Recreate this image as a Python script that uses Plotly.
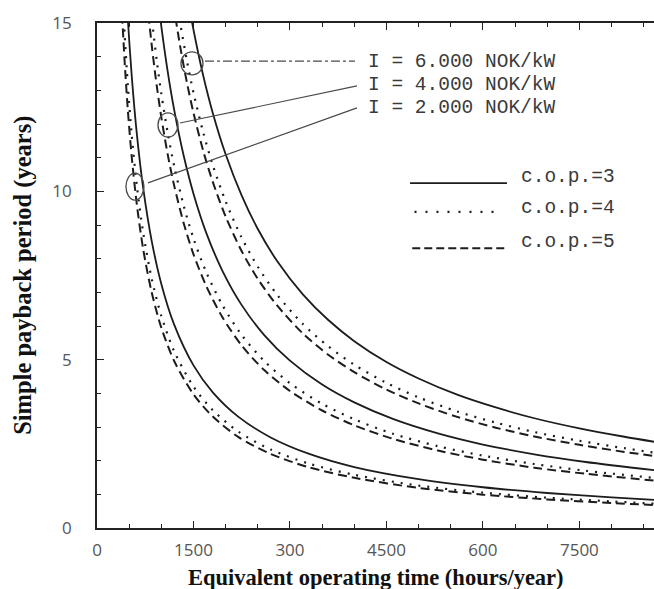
import plotly.graph_objects as go

# ---- data (hours/year -> simple payback years) ----
hours_I6000 = [1220, 1300, 1400, 1500, 1650, 1800, 2000, 2250, 2500, 2800, 3200,
               3600, 4000, 4500, 5000, 5600, 6200, 6800, 7500, 8200, 8700]
I6000_cop3 = [18.20, 17.08, 15.86, 14.80, 13.45, 12.33, 11.10, 9.87, 8.88, 7.93, 6.94,
              6.17, 5.55, 4.93, 4.44, 3.96, 3.58, 3.26, 2.96, 2.71, 2.55]
I6000_cop4 = [15.90, 14.92, 13.86, 12.93, 11.76, 10.78, 9.70, 8.62, 7.76, 6.93, 6.06,
              5.39, 4.85, 4.31, 3.88, 3.46, 3.13, 2.85, 2.59, 2.37, 2.23]
I6000_cop5 = [15.16, 14.23, 13.21, 12.33, 11.21, 10.28, 9.25, 8.22, 7.40, 6.61, 5.78,
              5.14, 4.63, 4.11, 3.70, 3.30, 2.98, 2.72, 2.47, 2.26, 2.13]

hours_I4000 = [800, 860, 930, 1000, 1100, 1200, 1350, 1500, 1700, 1950, 2250,
               2600, 3000, 3500, 4000, 4600, 5300, 6000, 6800, 7600, 8700]
I4000_cop3 = [18.63, 17.33, 16.02, 14.90, 13.55, 12.42, 11.04, 9.93, 8.76, 7.64, 6.62,
              5.73, 4.97, 4.26, 3.73, 3.24, 2.81, 2.48, 2.19, 1.96, 1.71]
I4000_cop4 = [16.13, 15.00, 13.87, 12.90, 11.73, 10.75, 9.56, 8.60, 7.59, 6.62, 5.73,
              4.96, 4.30, 3.69, 3.23, 2.80, 2.43, 2.15, 1.90, 1.70, 1.48]
I4000_cop5 = [15.25, 14.19, 13.12, 12.20, 11.09, 10.17, 9.04, 8.13, 7.18, 6.26, 5.42,
              4.69, 4.07, 3.49, 3.05, 2.65, 2.30, 2.03, 1.79, 1.61, 1.40]

hours_I2000 = [390, 430, 480, 540, 620, 720, 850, 1000, 1200, 1500, 1800,
               2200, 2700, 3300, 4000, 5000, 6000, 7000, 8000, 8700]
I2000_cop3 = [18.59, 16.86, 15.10, 13.43, 11.69, 10.07, 8.53, 7.25, 6.04, 4.83, 4.03,
              3.30, 2.69, 2.20, 1.81, 1.45, 1.21, 1.04, 0.91, 0.83]
I2000_cop4 = [16.15, 14.65, 13.13, 11.67, 10.16, 8.75, 7.41, 6.30, 5.25, 4.20, 3.50,
              2.86, 2.33, 1.91, 1.58, 1.26, 1.05, 0.90, 0.79, 0.72]
I2000_cop5 = [15.26, 13.84, 12.40, 11.02, 9.60, 8.26, 7.00, 5.95, 4.96, 3.97, 3.31,
              2.70, 2.20, 1.80, 1.49, 1.19, 0.99, 0.85, 0.74, 0.68]

x_tickvals = [0, 1500, 3000, 4500, 6000, 7500]
x_ticktext = ["0", "1500", "300", "4500", "600", "7500"]
y_tickvals = [0, 5, 10, 15]
investment_labels = ["I = 6.000 NOK/kW", "I = 4.000 NOK/kW", "I = 2.000 NOK/kW"]
cop_labels = ["c.o.p.=3", "c.o.p.=4", "c.o.p.=5"]

# ---- styles ----
INK = "#1c1c1c"
GRAY = "#4a4a4a"
curve_dash = ["solid", "2px,7px", "9px,5px"]
legend_dash = ["solid", "2px,9px", "8px,4px"]
widths = [1.8, 2.2, 2.0]

fig = go.Figure()
groups = [
    (hours_I6000, [I6000_cop3, I6000_cop4, I6000_cop5]),
    (hours_I4000, [I4000_cop3, I4000_cop4, I4000_cop5]),
    (hours_I2000, [I2000_cop3, I2000_cop4, I2000_cop5]),
]
for hrs, series in groups:
    for k, ys in enumerate(series):
        fig.add_trace(go.Scatter(
            x=hrs, y=ys, mode="lines", showlegend=False,
            line=dict(color=INK, width=widths[k], dash=curve_dash[k],
                      shape="spline", smoothing=0.8),
            hoverinfo="skip"))

# ---- callout circles and leader lines (data coordinates) ----
circles = [(1306, 1648, 13.46, 14.14), (948, 1259, 11.61, 12.33), (450, 730, 9.74, 10.54)]
leaders = [((1679, 13.87), (4011, 13.87), "dashdot"),
           ((1290, 12.03), (4042, 13.13), "solid"),
           ((793, 10.25), (4042, 12.48), "solid")]
shapes = []
for (x0, x1, y0, y1) in circles:
    shapes.append(dict(type="circle", xref="x", yref="y", x0=x0, x1=x1, y0=y0, y1=y1,
                       line=dict(color=GRAY, width=1.3)))
for (p0, p1, d) in leaders:
    shapes.append(dict(type="line", xref="x", yref="y", x0=p0[0], y0=p0[1],
                       x1=p1[0], y1=p1[1], line=dict(color=GRAY, width=1.2, dash=d)))

# ---- legend drawn as shapes + text ----
legend_rows = [(0.562, 0.736, 0.683), (0.570, 0.727, 0.626), (0.566, 0.733, 0.554)]
for k, (x0, x1, y) in enumerate(legend_rows):
    shapes.append(dict(type="line", xref="paper", yref="paper", x0=x0, x1=x1, y0=y, y1=y,
                       line=dict(color=INK, width=widths[k], dash=legend_dash[k])))

annotations = []
mono = dict(family="Liberation Mono, Courier New, monospace", size=19.5, color="#3a3a3a")
for lab, y in zip(investment_labels, [0.923, 0.877, 0.832]):
    annotations.append(dict(text=lab, xref="paper", yref="paper", x=0.483, y=y,
                            xanchor="left", yanchor="middle", showarrow=False, font=mono))
for lab, y in zip(cop_labels, [0.695, 0.634, 0.566]):
    annotations.append(dict(text=lab, xref="paper", yref="paper", x=0.757, y=y,
                            xanchor="left", yanchor="middle", showarrow=False, font=mono))

serif = "Liberation Serif, Times New Roman, serif"
annotations.append(dict(text="<b>Equivalent operating time (hours/year)</b>", xref="paper",
                        yref="paper", x=0.5, y=-0.099, xanchor="center", yanchor="middle",
                        showarrow=False, font=dict(family=serif, size=22.5, color="#111")))
annotations.append(dict(text="<b>Simple payback period (years)</b>", xref="paper",
                        yref="paper", x=-0.134, y=0.5, xanchor="center", yanchor="middle",
                        textangle=-90, showarrow=False,
                        font=dict(family=serif, size=24.5, color="#111")))

tick_font = dict(family="Open Sans, DejaVu Sans, sans-serif", size=17, color="#555")

fig.update_layout(
    width=654, height=589,
    margin=dict(l=97, r=0, t=23, b=61),
    paper_bgcolor="white", plot_bgcolor="white",
    shapes=shapes, annotations=annotations,
    xaxis=dict(range=[0, 8660], tickmode="array", tickvals=x_tickvals, ticktext=x_ticktext,
               ticks="inside", ticklen=7, tickwidth=1.3, tickcolor="#222",
               minor=dict(tickmode="linear", tick0=0, dtick=500, ticks="inside",
                          ticklen=4, tickwidth=1.2, tickcolor="#222"),
               showline=True, linecolor="#222", linewidth=1.6, mirror="ticks",
               showgrid=False, zeroline=False, tickfont=tick_font,
               ticklabelstandoff=6),
    yaxis=dict(range=[0, 15], tickmode="array", tickvals=y_tickvals,
               ticks="inside", ticklen=7, tickwidth=1.3, tickcolor="#222",
               minor=dict(tickmode="linear", tick0=0, dtick=1, ticks="inside",
                          ticklen=4, tickwidth=1.2, tickcolor="#222"),
               showline=True, linecolor="#222", linewidth=1.6, mirror=False,
               showgrid=False, zeroline=False, tickfont=tick_font,
               ticklabelstandoff=20),
)

fig.write_html("out.html")
